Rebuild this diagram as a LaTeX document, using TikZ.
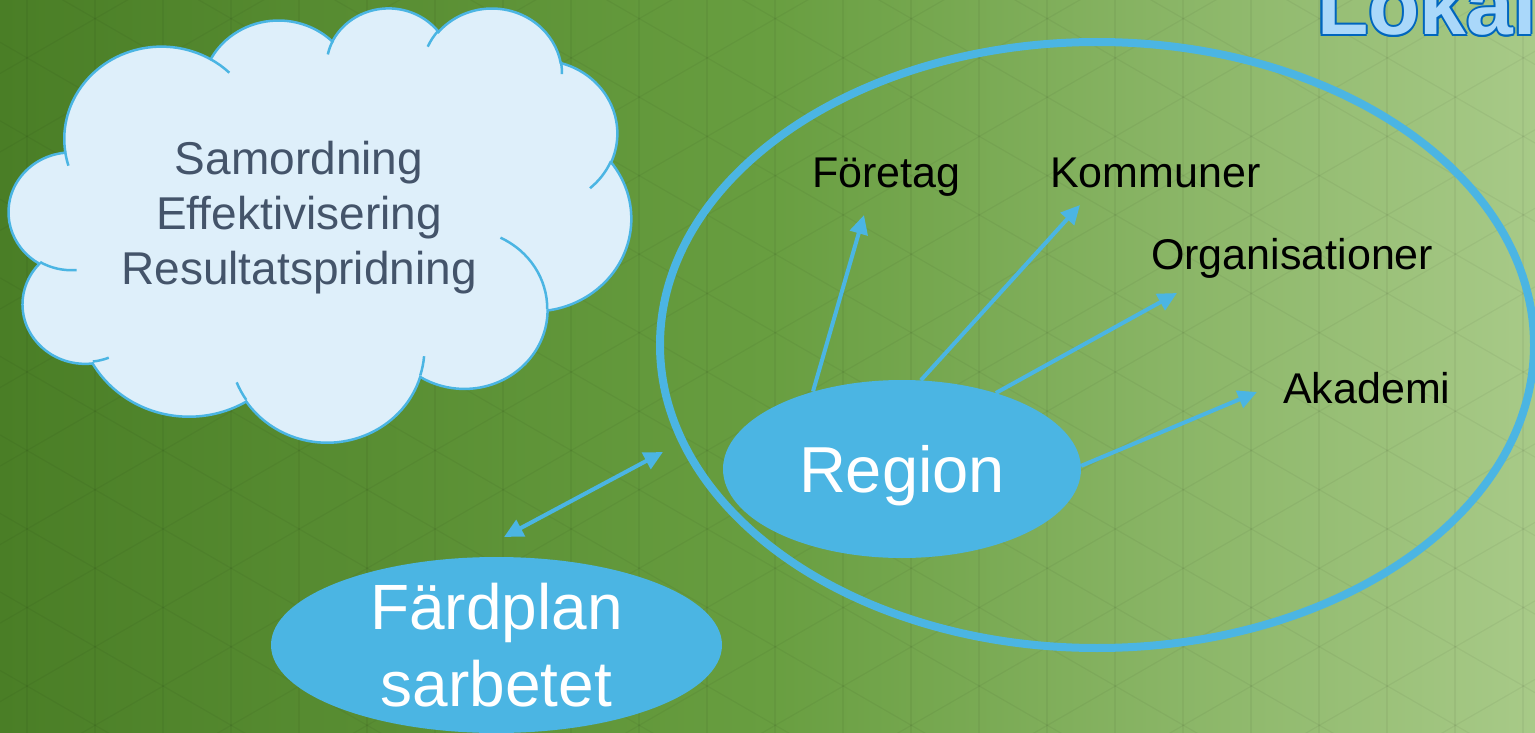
\documentclass[tikz,border=0pt]{standalone}
\usepackage{fontspec}
\setmainfont{Liberation Sans}
\usetikzlibrary{arrows.meta,shapes.geometric,calc}
\definecolor{bgdark}{RGB}{74,126,38}
\definecolor{bgmid}{RGB}{104,158,64}
\definecolor{bglight}{RGB}{168,202,136}
\definecolor{skyblue}{RGB}{75,181,227}
\definecolor{cloudfill}{RGB}{222,239,250}
\definecolor{cloudtext}{RGB}{68,84,106}
\definecolor{lokalfill}{RGB}{170,216,250}
\definecolor{lokaledge}{RGB}{0,102,190}
% visual angle -> parametric angle on an ellipse
\pgfmathdeclarefunction{visang}{3}{%
  \begingroup
  \pgfmathparse{#1+mod(atan2(#2*sin(#1),#3*cos(#1))-#1+900,360)-180}%
  \pgfmathsmuggle\pgfmathresult
  \endgroup}

\begin{document}
\begin{tikzpicture}[x=1pt,y=-1pt,
    bubble/.style={ellipse,fill=skyblue,text=white,inner sep=0pt,text depth=0pt},
    ring/.style={ellipse,draw=skyblue,line width=8pt,inner sep=0pt},
    partner/.style={anchor=base west,inner sep=0pt,font=\fontsize{43}{50}\selectfont},
    lokal/.style={anchor=base west,inner sep=0pt,font=\fontsize{84}{100}\selectfont\bfseries},
    linkarrow/.style={skyblue,line width=4pt,-{Triangle[length=19pt,width=18pt]}},
    twoway/.style={skyblue,line width=4pt,{Triangle[length=19pt,width=18pt]}-{Triangle[length=19pt,width=18pt]}},
    puff/.style={skyblue,line width=2.5pt},
    latticeline/.style={black,opacity=0.045,line width=1.2pt}]
    % frame
    \useasboundingbox (0,0) rectangle (1535,733);
    \clip (0,0) rectangle (1535,733);
    % background
    \shade[left color=bgdark,right color=bglight,middle color=bgmid] (0,0) rectangle (1535,733);
    \foreach \x in {27,95,...,1535}
        \draw[latticeline] (\x,0) -- (\x,733);
    \foreach \c in {-900,-821.48,...,760} {
        \draw[latticeline] (0,\c) -- (1535,\c+886);
        \draw[latticeline] (0,\c+895) -- (1535,\c+9);
    }
    % title
    \foreach \a in {0,45,...,315}
        \node[lokal,text=lokaledge] (lokal\a) at ($(1317,35)+(\a:2)$) {Lokal};
    \node[lokal,text=lokalfill] (lokal) at (1317,35) {Lokal};
    % ring round the region
    \node[ring,minimum width=874,minimum height=606] (ring) at (1097,345) {};
    % cloud
    \begin{scope}[shift={(9,7)},x=0.1440pt,y=-0.1005pt]
        \draw[puff,fill=cloudfill] (390,1437)
            \foreach \w/\h/\s/\d in {675.3/919/-190.4875/123.7805, 533.3/726.7/-144.1024/89.9452,
                436.5/594.5/-145.8079/99.723, 485.7/659.5/-130.9861/117.2417,
                533.3/727.3/-78.7089/109.0269, 677.5/922/-46.2673/130.269,
                578.5/786.7/0.625/114.0333, 675.2/921.5/22.4516/115.1726,
                772/1054.3/66.2426/75.711, 436/591.8/-274.9421/146.7356,
                434.5/594.5/-246.8285/152.5189} {
                arc[x radius=\w,y radius=\h,start angle={visang(\s,\w,\h)},end angle={visang(\s+\d,\w,\h)}]
            } -- cycle;
        \foreach \px/\py/\w/\h/\s/\d in {469.3/2617.7/434.5/594.5/86.742/26.4295,
            692.8/3489.9/436/591.8/73.6105/11.4475, 1647.8/3909/675.2/921.5/137.6242/14.0811,
            2882.7/3475.1/675.2/921.5/6.4533/15.9984, 3412.9/2295.4/578.5/786.7/-70.2924/70.9174,
            4179.8/1535.4/533.3/727.3/30.318/27.7515, 3832.4/542.6/485.7/659.5/-13.7443/14.8589,
            2907.8/395.2/485.7/659.5/-149.1815/18.1954, 2214.1/472/436.5/594.5/-163.4943/17.6864,
            1400/519.2/675.3/919/-66.707/12.3194, 412.7/1578.9/675.3/919/157.6544/11.8582}
            \draw[puff] (\px,\py) arc[x radius=\w,y radius=\h,start angle={visang(\s,\w,\h)},end angle={visang(\s+\d,\w,\h)}];
    \end{scope}
    \node[font=\fontsize{46}{55}\selectfont,text=cloudtext,align=center,inner sep=0pt] (cloudtext) at (299,218)
        {Samordning\\Effektivisering\\Resultatspridning};
    % bubbles
    \node[bubble,minimum width=358,minimum height=178,font=\fontsize{65}{78}\selectfont] (region) at (902,469) {Region};
    \node[bubble,minimum width=451,minimum height=176,align=center,font=\fontsize{64}{77}\selectfont] (fardplan) at (496.5,645)
        {Färdplan\\sarbetet};
    % partners
    \node[partner] (foretag) at (812,188) {Företag};
    \node[partner] (kommuner) at (1050,188) {Kommuner};
    \node[partner] (organisationer) at (1151,269) {Organisationer};
    \node[partner] (akademi) at (1283,403) {Akademi};
    % arrow tips
    \coordinate (foretagtip) at (864,215);
    \coordinate (kommunertip) at (1080,205);
    \coordinate (organisationertip) at (1177,293);
    \coordinate (akademitip) at (1257,392);
    \coordinate (fardplantip) at (504,537);
    \coordinate (ringtip) at (663,452);
    % arrows
    \draw[linkarrow] (region.139) -- (foretagtip);
    \draw[linkarrow] (region.78) -- (kommunertip);
    \draw[linkarrow] (region.39) -- (organisationertip);
    \draw[linkarrow] (region.1) -- (akademitip);
    \draw[twoway] (fardplantip) -- (ringtip);
\end{tikzpicture}
\end{document}
